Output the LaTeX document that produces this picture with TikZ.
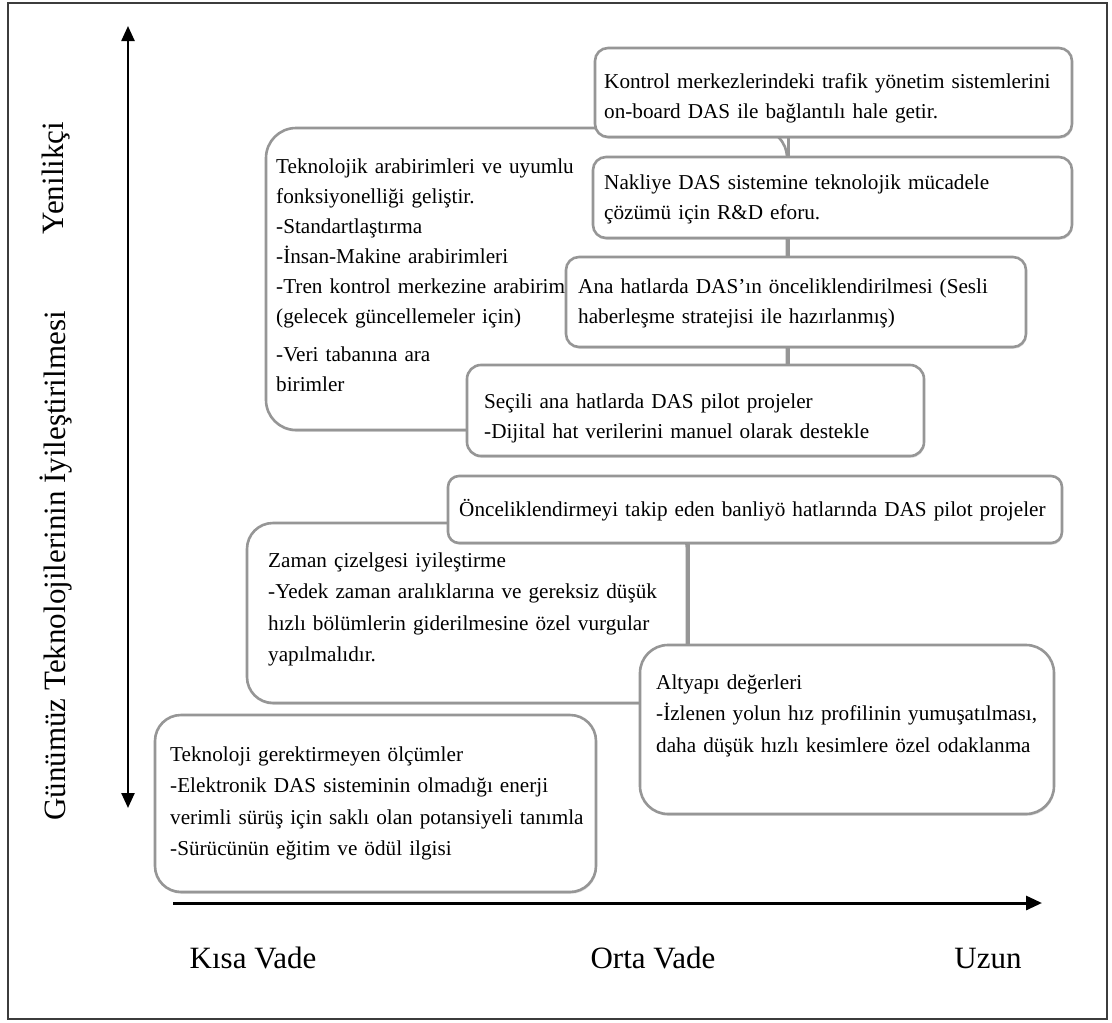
\documentclass[tikz,border=0pt]{standalone}
\usepackage{fontspec}
\setmainfont{Liberation Serif}
\usetikzlibrary{arrows.meta,shadows}
\definecolor{boxgray}{RGB}{150,150,150}
\definecolor{framegray}{RGB}{60,60,60}
\begin{document}
\begin{tikzpicture}[x=1pt,y=-1pt,
  box/.style={draw=boxgray, line width=2.6pt, fill=white, inner sep=0pt,
    drop shadow={shadow xshift=0.8pt, shadow yshift=-1.8pt, opacity=0.25}},
  conn/.style={draw=boxgray, line width=2.6pt},
  txt/.style={font=\fontsize{21.2pt}{30pt}\selectfont, align=left, inner sep=0pt, text width=640pt, anchor=base west},
  txtb/.style={txt, font=\fontsize{21.2pt}{31.5pt}\selectfont},
  lab/.style={font=\fontsize{31pt}{36pt}\selectfont, inner sep=0pt}
]
\fill[white] (0,0) rectangle (1112,1023);
\useasboundingbox (0,0) rectangle (1112,1023);
\draw[framegray, line width=1.6pt] (8,3) rectangle (1107,1019);

% axes
\coordinate (vt) at (128,26);
\coordinate (vb) at (128,808);
\draw[line width=2.4pt, {Triangle[length=15pt,width=13pt]}-{Triangle[length=15pt,width=13pt]}] (vb) -- (vt);
\coordinate (hl) at (173,903);
\coordinate (hr) at (1042,903);
\draw[line width=3pt, -{Triangle[length=16pt,width=14pt]}] (hl) -- (hr);

\node[lab, rotate=90] (yen) at (56,178) {Yenilikçi};
\node[lab, rotate=90] (gun) at (56,566) {Günümüz Teknolojilerinin İyileştirilmesi};
\node[lab] (kisa) at (253,958) {Kısa Vade};
\node[lab] (orta) at (653,958) {Orta Vade};
\node[lab] (uzun) at (988,958) {Uzun};

% upper group
\node[box, rounded corners=30pt, minimum width=521pt, minimum height=302pt] (B) at (526.5,279) {};
\node[box, rounded corners=13pt, minimum width=477pt, minimum height=89pt] (A) at (833.5,92.5) {};
\node[box, rounded corners=13pt, minimum width=479pt, minimum height=81pt] (C) at (832.5,197.5) {};
\node[box, rounded corners=13pt, minimum width=460pt, minimum height=90pt] (D) at (796,302) {};
\node[box, rounded corners=14pt, minimum width=457pt, minimum height=91pt] (E) at (695.5,410.5) {};
\draw[conn] (A.south -| B.east) -- (C.north -| B.east);
\draw[conn] (C.south -| B.east) -- (D.north -| B.east);
\draw[conn] (D.south -| B.east) -- (E.north -| B.east);

\node[txt] (Bt) at (276,173) {Teknolojik arabirimleri ve uyumlu\\fonksiyonelliği geliştir.\\-Standartlaştırma\\-İnsan-Makine arabirimleri\\-Tren kontrol merkezine arabirim\\(gelecek güncellemeler için)\\[8pt]-Veri tabanına ara\\birimler};
\node[txt] (At) at (604,88) {Kontrol merkezlerindeki trafik yönetim sistemlerini\\on-board DAS ile bağlantılı hale getir.};
\node[txt] (Ct) at (604,189) {Nakliye DAS sistemine teknolojik mücadele\\çözümü için R\&D eforu.};
\node[txt] (Dt) at (578,293) {Ana hatlarda DAS’ın önceliklendirilmesi (Sesli\\haberleşme stratejisi ile hazırlanmış)};
\node[txt] (Et) at (484,408) {Seçili ana hatlarda DAS pilot projeler\\-Dijital hat verilerini manuel olarak destekle};

% middle group
\node[box, rounded corners=26pt, minimum width=440pt, minimum height=180pt] (G) at (467,613) {};
\node[box, rounded corners=11pt, minimum width=614pt, minimum height=67pt] (F) at (755,509.5) {};
\node[box, rounded corners=28pt, minimum width=414pt, minimum height=169pt] (I) at (847,729.5) {};
\draw[conn] (F.south -| G.east) -- (I.north -| G.east);

\node[txt] (Ft) at (459,516) {Önceliklendirmeyi takip eden banliyö hatlarında DAS pilot projeler};
\node[txtb] (Gt) at (268,567) {Zaman çizelgesi iyileştirme\\-Yedek zaman aralıklarına ve gereksiz düşük\\hızlı bölümlerin giderilmesine özel vurgular\\yapılmalıdır.};
\node[txtb] (It) at (656,689) {Altyapı değerleri\\-İzlenen yolun hız profilinin yumuşatılması,\\daha düşük hızlı kesimlere özel odaklanma};

% lower box
\node[box, rounded corners=26pt, minimum width=441pt, minimum height=177pt] (H) at (375.5,803.5) {};
\node[txtb] (Ht) at (170,761) {Teknoloji gerektirmeyen ölçümler\\-Elektronik DAS sisteminin olmadığı enerji\\verimli sürüş için saklı olan potansiyeli tanımla\\-Sürücünün eğitim ve ödül ilgisi};
\end{tikzpicture}
\end{document}
